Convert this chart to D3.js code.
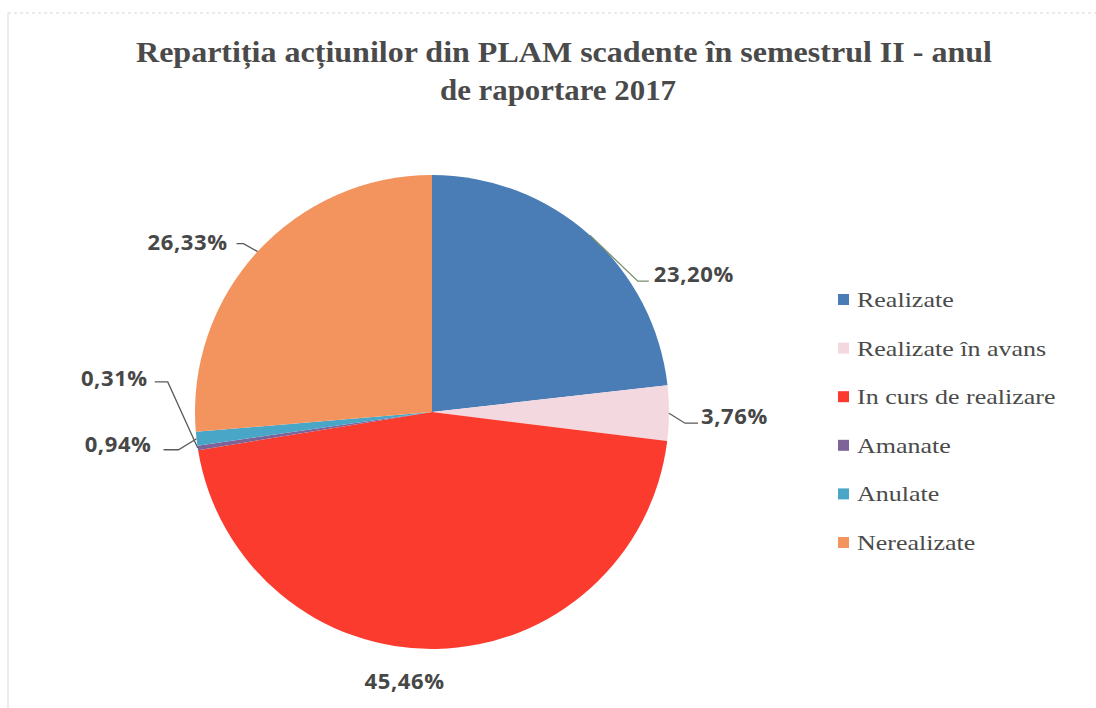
<!DOCTYPE html>
<html><head><meta charset="utf-8">
<script src="https://cdn.jsdelivr.net/npm/d3@7/dist/d3.min.js"></script>
<style>body{margin:0;background:#fff}svg{display:block}</style>
</head><body>
<svg id="c" width="1096" height="708"></svg>
<script>
const categories = ["Realizate","Realizate în avans","In curs de realizare","Amanate","Anulate","Nerealizate"];
const values = [23.20, 3.76, 45.46, 0.31, 0.94, 26.33];
const labels = ["23,20%","3,76%","45,46%","0,31%","0,94%","26,33%"];
const colors = ["#4a7db6","#f3d8e0","#fa3b2e","#7e6399","#4aa6c7","#f3945e"];
const titleLines = ["Repartiția acțiunilor din PLAM scadente în semestrul II - anul","de raportare 2017"];

// label layout: leader elbow / end and text offsets relative to slice edge (styling only)
const labelLayout = [
  {via:[ 48, 46], end: 59, text:[64, 47], anchor:"start"},
  {via:[ 16, 10], end: 29, text:[32, 11], anchor:"start"},
  {via:null,            text:[-32, 40], anchor:"middle"},
  {via:[-30,-66], end:-43, text:[-50,-62], anchor:"end"},
  {via:[-18, 11], end:-33, text:[-45, 13], anchor:"end"},
  {via:[-14, -8], end:-21, text:[-30, -2], anchor:"end"}
];

const svg = d3.select("#c");
const W = 1096, H = 708;

// faint frame
svg.append("line").attr("x1",8).attr("x2",W).attr("y1",13).attr("y2",13)
  .attr("stroke","#d6d6d6").attr("stroke-dasharray","3,3");
svg.append("line").attr("x1",8).attr("x2",8).attr("y1",13).attr("y2",H)
  .attr("stroke","#dadada");

// title
const tfont = "'Liberation Serif','Times New Roman',serif";
const t = svg.append("text").attr("text-anchor","middle")
  .style("font-family",tfont).style("font-weight","bold").style("font-size","29px").attr("fill","#4a4a4a");
t.append("tspan").attr("x",564).attr("y",62).attr("textLength",856).attr("lengthAdjust","spacingAndGlyphs").text(titleLines[0]);
t.append("tspan").attr("x",558).attr("y",100).attr("textLength",236).attr("lengthAdjust","spacingAndGlyphs").text(titleLines[1]);

const cx = 432, cy = 412, r = 237;
const g = svg.append("g").attr("transform",`translate(${cx},${cy})`);
const pie = d3.pie().sort(null).value(d=>d);
const arcs = pie(values);
const arc = d3.arc().innerRadius(0).outerRadius(r);

g.selectAll("path").data(arcs).join("path")
  .attr("d",arc).attr("fill",(d,i)=>colors[i]);

// labels & leader lines
const lblFont = "'Open Sans','DejaVu Sans',sans-serif";
arcs.forEach((a,i)=>{
  const mid = (a.startAngle+a.endAngle)/2;
  const ex = r*Math.sin(mid), ey = -r*Math.cos(mid);
  const L = labelLayout[i];
  if (L.via){
    const pts = [[ex,ey],[ex+L.via[0],ey+L.via[1]],[ex+L.end,ey+L.via[1]]];
    g.append("path").attr("d",d3.line()(pts)).attr("fill","none")
      .attr("stroke",i===0?"#7a8f6a":"#5a5a5a").attr("stroke-width",1.3);
  }
  g.append("text").attr("x",ex+L.text[0]).attr("y",ey+L.text[1])
    .attr("text-anchor",L.anchor)
    .style("font-family",lblFont).style("font-weight","bold").style("font-size","22px")
    .style("letter-spacing","0.6px")
    .attr("fill","#474747").text(labels[i]);
});

// legend
const lg = svg.append("g").attr("transform","translate(838,300)");
const rows = lg.selectAll("g").data(categories).join("g")
  .attr("transform",(d,i)=>`translate(0,${i*48.6})`);
rows.append("rect").attr("x",0).attr("y",-6).attr("width",11).attr("height",11)
  .attr("fill",(d,i)=>colors[i]);
rows.append("text").attr("transform","translate(19,0) scale(1.3,1)").attr("dy","0.35em")
  .style("font-family",tfont).style("font-size","20px")
  .attr("fill","#4a4a4a").text(d=>d);
</script>
</body></html>
